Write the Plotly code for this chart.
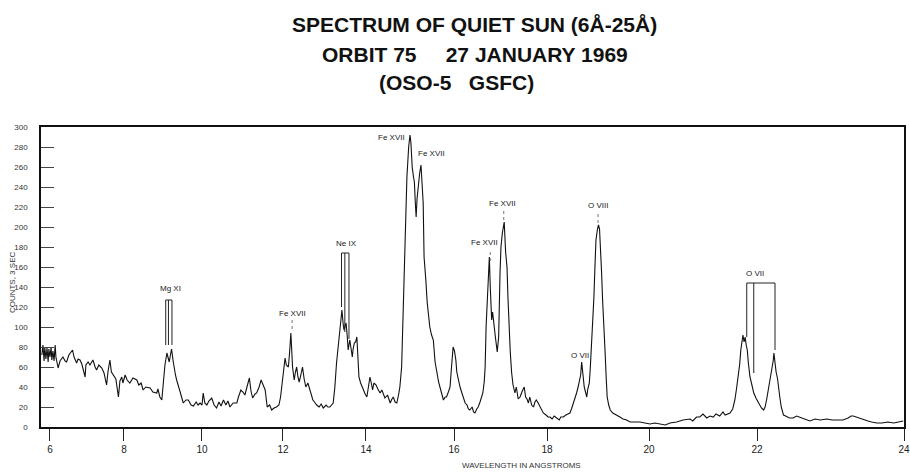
import numpy as np
import plotly.graph_objects as go

# ---------------- data ----------------
TITLE_LINES = [
    "SPECTRUM OF QUIET SUN (6Å-25Å)",
    "ORBIT 75\u00a0\u00a0\u00a0\u00a0\u00a027 JANUARY 1969",
    "(OSO-5\u00a0\u00a0\u00a0GSFC)",
]
X_TITLE = "WAVELENGTH IN ANGSTROMS"
Y_TITLE = "COUNTS, 3 SEC"

TICK_WAVELENGTHS = [6, 8, 10, 12, 14, 16, 18, 20, 22, 24]
# spectrometer drive position (scan units) at each tick wavelength:
# the chart's wavelength scale is non-linear (Bragg scan)
DRIVE_POSITION = [0, 74, 152, 233, 316, 404, 497, 599, 707, 854]
WAVELENGTH_RANGE = [5.757, 24.0]
COUNTS_RANGE = [0, 300]

WAVELENGTH = [
    5.78, 5.81, 5.84, 5.86, 5.89, 5.92, 5.95, 5.97, 6.00, 6.03, 6.05, 6.08, 6.11, 6.14, 6.16,
    6.22, 6.27, 6.35, 6.41, 6.45, 6.51, 6.61, 6.65, 6.72, 6.76, 6.81, 6.86, 6.95, 6.97, 7.03,
    7.08, 7.16, 7.22, 7.26, 7.32, 7.40, 7.46, 7.53, 7.57, 7.62, 7.66, 7.71, 7.78, 7.85, 7.89,
    7.94, 7.97, 8.03, 8.08, 8.15, 8.23, 8.33, 8.38, 8.44, 8.49, 8.56, 8.67, 8.74, 8.84, 8.87,
    8.92, 8.97, 9.01, 9.05, 9.10, 9.13, 9.16, 9.19, 9.22, 9.26, 9.28, 9.32, 9.35, 9.38, 9.44,
    9.52, 9.59, 9.65, 9.72, 9.78, 9.85, 9.90, 9.95, 10.00, 10.03, 10.07, 10.12, 10.17, 10.24, 10.30,
    10.36, 10.42, 10.47, 10.53, 10.59, 10.64, 10.69, 10.77, 10.86, 10.90, 10.96, 11.01, 11.06, 11.11, 11.17,
    11.21, 11.25, 11.31, 11.35, 11.41, 11.46, 11.51, 11.56, 11.61, 11.67, 11.72, 11.78, 11.84, 11.90, 11.94,
    11.98, 12.01, 12.05, 12.08, 12.13, 12.16, 12.19, 12.23, 12.27, 12.30, 12.33, 12.36, 12.39, 12.43, 12.47,
    12.51, 12.55, 12.60, 12.65, 12.72, 12.76, 12.81, 12.87, 12.92, 12.97, 13.04, 13.08, 13.13, 13.21, 13.25,
    13.29, 13.33, 13.36, 13.39, 13.42, 13.45, 13.47, 13.49, 13.52, 13.55, 13.57, 13.61, 13.64, 13.67, 13.69,
    13.72, 13.75, 13.78, 13.81, 13.83, 13.87, 13.93, 13.98, 14.02, 14.05, 14.09, 14.13, 14.15, 14.18, 14.23,
    14.27, 14.32, 14.36, 14.43, 14.49, 14.55, 14.59, 14.62, 14.66, 14.70, 14.74, 14.77, 14.81, 14.83, 14.89,
    14.93, 14.97, 15.00, 15.02, 15.05, 15.08, 15.10, 15.12, 15.14, 15.16, 15.19, 15.22, 15.25, 15.27, 15.30,
    15.32, 15.34, 15.36, 15.39, 15.42, 15.45, 15.49, 15.53, 15.57, 15.61, 15.65, 15.68, 15.72, 15.76, 15.80,
    15.83, 15.88, 15.91, 15.94, 15.98, 16.01, 16.04, 16.06, 16.09, 16.13, 16.17, 16.20, 16.24, 16.28, 16.31,
    16.34, 16.39, 16.42, 16.45, 16.49, 16.52, 16.56, 16.59, 16.62, 16.65, 16.67, 16.69, 16.72, 16.74, 16.76,
    16.78, 16.81, 16.83, 16.86, 16.89, 16.93, 16.96, 16.99, 17.01, 17.04, 17.06, 17.08, 17.11, 17.14, 17.16,
    17.18, 17.21, 17.24, 17.27, 17.31, 17.34, 17.38, 17.42, 17.46, 17.51, 17.54, 17.57, 17.60, 17.63, 17.67,
    17.71, 17.74, 17.77, 17.81, 17.85, 17.92, 17.98, 18.02, 18.06, 18.10, 18.14, 18.19, 18.24, 18.27, 18.32,
    18.37, 18.41, 18.45, 18.48, 18.52, 18.55, 18.58, 18.61, 18.63, 18.66, 18.68, 18.71, 18.73, 18.75, 18.78,
    18.80, 18.83, 18.85, 18.88, 18.90, 18.92, 18.94, 18.96, 18.99, 19.01, 19.03, 19.05, 19.07, 19.09, 19.12,
    19.14, 19.16, 19.18, 19.21, 19.24, 19.29, 19.37, 19.43, 19.49, 19.56, 19.63, 19.73, 19.82, 19.92, 20.02,
    20.11, 20.20, 20.30, 20.39, 20.51, 20.63, 20.76, 20.81, 20.88, 20.94, 21.00, 21.07, 21.13, 21.19, 21.24,
    21.31, 21.37, 21.41, 21.46, 21.50, 21.55, 21.59, 21.62, 21.65, 21.68, 21.70, 21.72, 21.74, 21.76, 21.78,
    21.80, 21.82, 21.84, 21.87, 21.91, 21.94, 21.98, 22.02, 22.04, 22.06, 22.09, 22.11, 22.13, 22.15, 22.17,
    22.18, 22.20, 22.22, 22.23, 22.24, 22.26, 22.28, 22.29, 22.31, 22.33, 22.36, 22.39, 22.44, 22.49, 22.54,
    22.61, 22.67, 22.72, 22.79, 22.86, 22.95, 23.02, 23.09, 23.17, 23.24, 23.28, 23.31, 23.35, 23.40, 23.45,
    23.51, 23.56, 23.63, 23.70, 23.78, 23.86, 23.92, 23.99,
]
COUNTS = [
    72, 82, 66, 80, 68, 79, 65, 78, 70, 80, 67, 76, 66, 82, 70,
    59, 66, 70, 66, 65, 72, 77, 70, 64, 68, 67, 63, 50, 62, 65,
    62, 67, 60, 57, 62, 59, 54, 42, 56, 67, 55, 52, 48, 30, 46,
    50, 44, 52, 47, 44, 49, 47, 42, 44, 37, 40, 39, 35, 34, 38,
    30, 27, 44, 62, 74, 70, 65, 72, 78, 66, 60, 52, 47, 42, 35,
    24, 27, 27, 22, 21, 25, 22, 24, 22, 34, 24, 22, 26, 29, 22,
    19, 25, 21, 27, 22, 26, 20, 24, 24, 30, 37, 35, 32, 40, 49,
    36, 29, 33, 34, 40, 47, 42, 37, 20, 22, 17, 19, 20, 22, 30,
    42, 55, 69, 62, 60, 75, 94, 60, 47, 55, 60, 50, 45, 52, 60,
    48, 40, 44, 37, 27, 25, 22, 20, 23, 19, 22, 20, 20, 24, 40,
    64, 80, 90, 100, 117, 103, 97, 100, 104, 90, 77, 87, 80, 70, 78,
    84, 85, 90, 66, 50, 44, 37, 33, 30, 38, 50, 42, 37, 44, 42,
    38, 34, 37, 29, 32, 24, 28, 30, 25, 24, 32, 40, 60, 90, 175,
    250, 280, 292, 285, 260, 250, 245, 225, 210, 228, 242, 254, 262, 250, 224,
    170, 160, 147, 125, 114, 100, 92, 87, 65, 54, 45, 40, 34, 27, 30,
    30, 36, 40, 58, 80, 76, 67, 55, 47, 40, 34, 30, 24, 22, 18,
    17, 20, 15, 14, 18, 20, 25, 29, 34, 45, 60, 100, 137, 160, 170,
    140, 107, 115, 105, 90, 75, 90, 154, 180, 194, 200, 205, 175, 160, 130,
    100, 75, 54, 42, 34, 40, 28, 30, 35, 40, 30, 28, 24, 30, 22,
    20, 25, 27, 24, 20, 14, 12, 10, 10, 8, 11, 9, 7, 10, 10,
    12, 13, 14, 18, 24, 28, 34, 40, 44, 52, 65, 48, 40, 36, 30,
    38, 44, 60, 87, 110, 130, 160, 187, 198, 202, 198, 180, 155, 127, 100,
    74, 50, 30, 22, 17, 14, 12, 10, 8, 7, 5, 5, 5, 4, 3,
    4, 3, 2, 4, 5, 7, 8, 6, 10, 10, 13, 9, 11, 10, 13,
    11, 15, 12, 13, 14, 18, 27, 38, 50, 63, 77, 88, 92, 85, 90,
    82, 77, 64, 50, 41, 34, 29, 25, 22, 19, 17, 20, 27, 36, 42,
    48, 57, 66, 74, 65, 55, 48, 40, 30, 20, 12, 11, 9, 9, 11,
    9, 7, 6, 8, 7, 8, 7, 7, 7, 9, 11, 11, 10, 8, 7,
    6, 5, 4, 4, 5, 4, 5, 6,
]

# line identifications
LINE_LABELS = ["Mg XI", "Fe XVII", "Ne IX", "Fe XVII", "Fe XVII", "Fe XVII", "Fe XVII", "O VII", "O VIII", "O VII"]
LABEL_WAVELENGTH = [9.18, 12.22, 13.52, 14.57, 15.48, 16.65, 17.05, 18.65, 19.00, 21.96]
LABEL_COUNTS = [139, 114, 184, 290, 274, 185, 224, 72, 222, 154]

# multiplet brackets: wavelengths of the component markers, top of bracket, lower ends
BRACKET_WAVELENGTHS = [[9.07, 9.14, 9.23], [13.41, 13.49, 13.59], [21.81, 21.94, 22.245]]
BRACKET_TOP = [127, 174, 144]
BRACKET_BOTTOMS = [[82, 82, 82], [120, 95, 88], [90, 54, 77]]

# single-line markers under labels
MARKER_WAVELENGTH = [12.22, 16.78, 17.07, 19.00]
MARKER_TOP = [108, 178, 218, 215]
MARKER_BOTTOM = [98, 166, 207, 204]


# ---------------- non-linear wavelength scale ----------------
def drive(lam):
    lam = np.asarray(lam, dtype=float)
    tw = np.asarray(TICK_WAVELENGTHS, dtype=float)
    dp = np.asarray(DRIVE_POSITION, dtype=float)
    out = np.interp(lam, tw, dp)
    lo_slope = (dp[1] - dp[0]) / (tw[1] - tw[0])
    hi_slope = (dp[-1] - dp[-2]) / (tw[-1] - tw[-2])
    out = np.where(lam < tw[0], dp[0] + (lam - tw[0]) * lo_slope, out)
    out = np.where(lam > tw[-1], dp[-1] + (lam - tw[-1]) * hi_slope, out)
    return out


fig = go.Figure()
fig.add_trace(go.Scatter(
    x=drive(WAVELENGTH), y=COUNTS, mode="lines",
    line=dict(color="#111111", width=1.1), hoverinfo="skip", showlegend=False,
))

shapes = []
for lams, top, bots in zip(BRACKET_WAVELENGTHS, BRACKET_TOP, BRACKET_BOTTOMS):
    xs = drive(lams)
    shapes.append(dict(type="line", xref="x", yref="y", x0=float(xs[0]), x1=float(xs[-1]),
                       y0=top, y1=top, line=dict(color="#222222", width=1)))
    for xv, b in zip(xs, bots):
        shapes.append(dict(type="line", xref="x", yref="y", x0=float(xv), x1=float(xv),
                           y0=b, y1=top, line=dict(color="#222222", width=1)))
for lam, t, b in zip(MARKER_WAVELENGTH, MARKER_TOP, MARKER_BOTTOM):
    xv = float(drive(lam))
    shapes.append(dict(type="line", xref="x", yref="y", x0=xv, x1=xv, y0=b, y1=t,
                       line=dict(color="#777777", width=1, dash="dot")))

annotations = []
for txt, lam, c in zip(LINE_LABELS, LABEL_WAVELENGTH, LABEL_COUNTS):
    annotations.append(dict(x=float(drive(lam)), y=c, xref="x", yref="y", text=txt,
                            showarrow=False, xanchor="center", yanchor="middle",
                            font=dict(family="Liberation Sans", size=8, color="#222222")))

title_pos = [(0.502, 1.34), (0.503, 1.242), (0.481, 1.147)]
for txt, (px, py) in zip(TITLE_LINES, title_pos):
    annotations.append(dict(x=px, y=py, xref="paper", yref="paper", text="<b>" + txt + "</b>",
                            showarrow=False, xanchor="center", yanchor="middle",
                            font=dict(family="Liberation Sans", size=21, color="#111111")))
annotations.append(dict(x=0.557, y=-0.127, xref="paper", yref="paper", text=X_TITLE,
                        showarrow=False, xanchor="center", yanchor="middle",
                        font=dict(family="Liberation Sans Narrow, Liberation Sans", size=8, color="#333333")))
annotations.append(dict(x=-0.0336, y=0.483, xref="paper", yref="paper", text=Y_TITLE,
                        showarrow=False, xanchor="center", yanchor="middle", textangle=-90,
                        font=dict(family="Liberation Sans", size=8, color="#333333")))

fig.update_layout(
    template="none",
    width=910, height=473,
    margin=dict(l=41, r=6, t=127, b=46, autoexpand=False),
    paper_bgcolor="white", plot_bgcolor="white",
    shapes=shapes, annotations=annotations,
    xaxis=dict(
        automargin=False,
        range=[float(drive(WAVELENGTH_RANGE[0])), float(drive(WAVELENGTH_RANGE[1]))],
        tickmode="array", tickvals=drive(TICK_WAVELENGTHS).tolist(),
        ticktext=[str(t) for t in TICK_WAVELENGTHS],
        ticks="outside", ticklen=12, tickwidth=1, tickcolor="#222222",
        ticklabeloverflow="allow",
        showline=True, linecolor="#111111", linewidth=2, mirror=True,
        showgrid=False, zeroline=False,
        tickfont=dict(family="Liberation Sans Narrow, Liberation Sans", size=10, color="#222222"),
    ),
    yaxis=dict(
        automargin=False,
        range=COUNTS_RANGE, tickmode="linear", tick0=0, dtick=20,
        ticks="inside", ticklen=13, tickwidth=1, tickcolor="#444444",
        ticklabelstandoff=10,
        showline=True, linecolor="#111111", linewidth=1.5, mirror=True,
        showgrid=False, zeroline=False,
        tickfont=dict(family="Liberation Sans", size=8, color="#333333"),
    ),
)

# remove the page's default body margin so the 910x473 figure fills the window exactly
fig.write_html(
    "out.html",
    config={"displayModeBar": False},
    post_script="document.body.style.margin='0';document.body.style.overflow='hidden';"
                "document.documentElement.style.overflow='hidden';",
)
